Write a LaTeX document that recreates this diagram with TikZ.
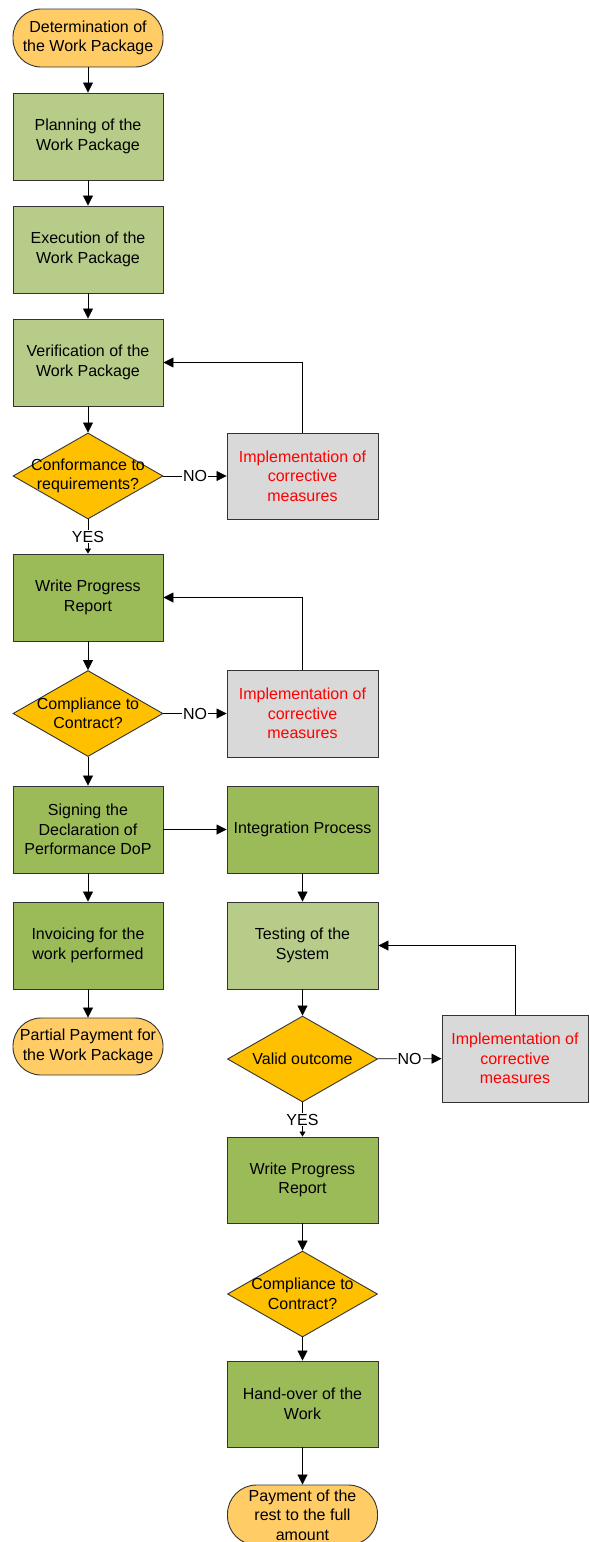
\documentclass[tikz,border=0pt]{standalone}
\usepackage{fontspec}
\setmainfont{Liberation Sans}
\usetikzlibrary{arrows.meta,shapes.geometric}
\definecolor{termfill}{HTML}{FFCC66}
\definecolor{lightgreen}{HTML}{B8CC8A}
\definecolor{darkgreen}{HTML}{9BBB59}
\definecolor{decfill}{HTML}{FFC000}
\definecolor{corrfill}{HTML}{D9D9D9}
\definecolor{edgegray}{HTML}{333333}
\begin{document}
\begin{tikzpicture}[x=1pt,y=-1pt,
  font=\fontsize{16}{19.5}\selectfont,
  box/.style={rectangle, draw=edgegray, line width=0.9pt, minimum width=150pt,
    minimum height=87pt, align=center, inner sep=2pt},
  lightbox/.style={box, fill=lightgreen},
  darkbox/.style={box, fill=darkgreen},
  corrbox/.style={box, fill=corrfill, text=red},
  term/.style={rectangle, draw=edgegray, line width=0.9pt, fill=termfill,
    rounded corners=28pt, minimum width=150pt, minimum height=58pt,
    align=center, inner sep=1pt},
  decision/.style={diamond, draw=edgegray, line width=0.9pt, fill=decfill,
    minimum width=150pt, minimum height=86pt, inner sep=0pt},
  flow/.style={draw=black, line width=0.8pt, -{Triangle[length=10pt,width=10pt]}},
  yesflow/.style={draw=black, line width=0.8pt, -{Triangle[length=5pt,width=6pt]}},
  tag/.style={fill=white, inner sep=1pt}
]
\useasboundingbox (0,0) rectangle (589,1542);

% left column
\node[term] (start) at (88,38) {Determination of\\the Work Package};
\node[lightbox] (plan) at (88,136.5) {Planning of the\\Work Package};
\node[lightbox] (exec) at (88,249.5) {Execution of the\\Work Package};
\node[lightbox] (verif) at (88,362.5) {Verification of the\\Work Package};
\node[decision, label={[align=center]center:Conformance to\\requirements?}] (d1) at (88,476) {};
\node[corrbox, minimum width=151pt, minimum height=86pt] (imp1) at (302.5,476) {Implementation of\\corrective\\measures};
\node[darkbox] (wpr1) at (88,597.5) {Write Progress\\Report};
\node[decision, label={[align=center]center:Compliance to\\Contract?}] (d2) at (88,713.5) {};
\node[corrbox, minimum width=151pt] (imp2) at (302.5,713.5) {Implementation of\\corrective\\measures};
\node[darkbox] (sign) at (88,829.5) {Signing the\\Declaration of\\Performance DoP};
\node[darkbox] (inv) at (88,945.5) {Invoicing for the\\work performed};
\node[term, minimum height=57pt] (partial) at (88,1046.5) {Partial Payment for\\the Work Package};

% right column
\node[darkbox, minimum width=151pt] (integ) at (302.5,829.5) {Integration Process};
\node[lightbox, minimum width=151pt] (test) at (302.5,945.5) {Testing of the\\System};
\node[decision, label={[align=center]center:Valid outcome}] (d3) at (302.5,1059) {};
\node[corrbox, minimum width=146pt] (imp3) at (515,1058.5) {Implementation of\\corrective\\measures};
\node[darkbox, minimum width=151pt, minimum height=86pt] (wpr2) at (302.5,1180) {Write Progress\\Report};
\node[decision, label={[align=center]center:Compliance to\\Contract?}] (d4) at (302.5,1294) {};
\node[darkbox, minimum width=151pt, minimum height=86pt] (hand) at (302.5,1404) {Hand-over of the\\Work};
\node[term, minimum height=60pt, rounded corners=29pt] (pay) at (302.5,1515) {Payment of the\\rest to the full\\amount};

% main flow
\draw[flow] (start) -- (plan);
\draw[flow] (plan) -- (exec);
\draw[flow] (exec) -- (verif);
\draw[flow] (verif) -- (d1);
\draw[flow] (d1) -- node[tag] {NO} (imp1);
\draw[yesflow] (d1) -- node[tag] {YES} (wpr1);
\draw[flow] (imp1.north) |- (verif.east);
\draw[flow] (wpr1) -- (d2);
\draw[flow] (d2) -- node[tag] {NO} (imp2);
\draw[flow] (imp2.north) |- (wpr1.east);
\draw[flow] (d2) -- (sign);
\draw[flow] (sign) -- (inv);
\draw[flow] (inv) -- (partial);
\draw[flow] (sign) -- (integ);
\draw[flow] (integ) -- (test);
\draw[flow] (test) -- (d3);
\draw[flow] (d3) -- node[tag] {NO} (imp3);
\draw[flow] (imp3.north) |- (test.east);
\draw[yesflow] (d3) -- node[tag] {YES} (wpr2);
\draw[flow] (wpr2) -- (d4);
\draw[flow] (d4) -- (hand);
\draw[flow] (hand) -- (pay);
\end{tikzpicture}
\end{document}
